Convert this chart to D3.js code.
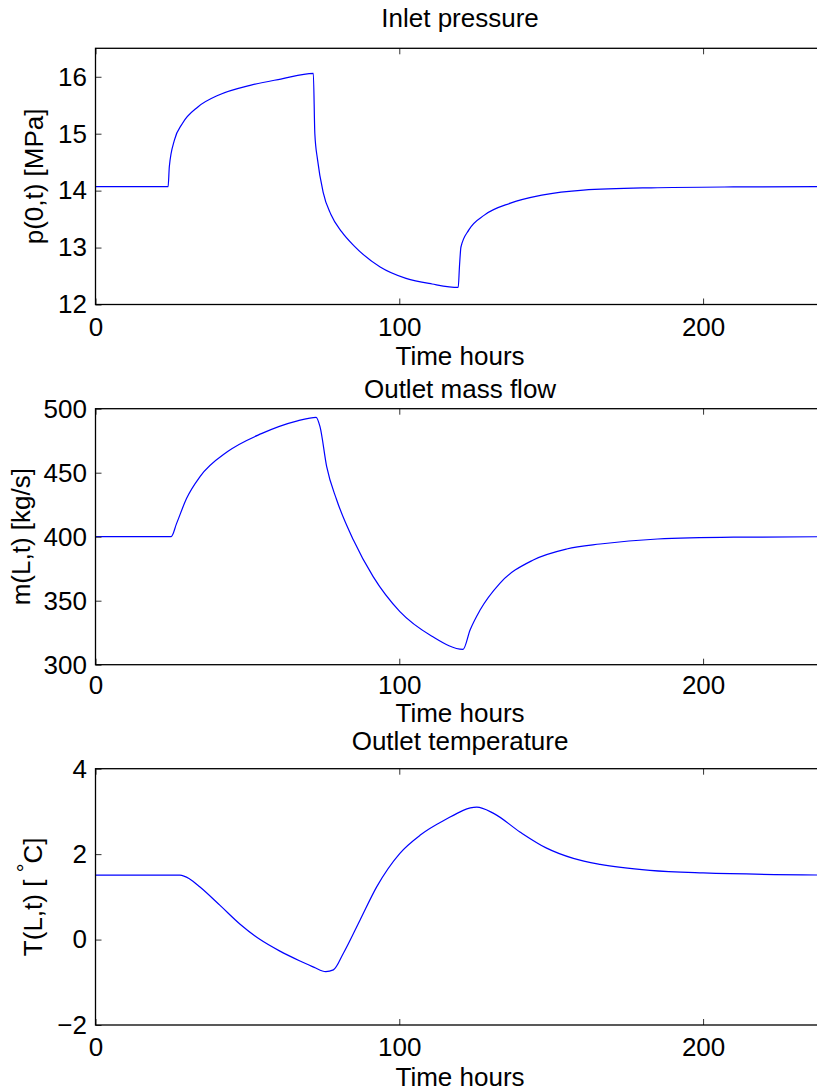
<!DOCTYPE html>
<html>
<head>
<meta charset="utf-8">
<script src="https://cdn.jsdelivr.net/npm/d3@7"></script>
<style>
  html, body { margin: 0; padding: 0; background: #fff; }
  svg { display: block; }
  text { font-family: "Liberation Sans", Arial, Helvetica, sans-serif; fill: #000; }
</style>
</head>
<body>
<svg id="chart"></svg>
<script>
// Time axis (hours) and tick labels
const timeDomain = [0, 240];
const timeTicks = [0, 100, 200];

// Inlet pressure p(0,t) [MPa]
const pressureTime = [0, 23.9, 24.3, 26, 28.6, 33.7, 40.6, 50.9, 61, 71.7, 72.2, 73.1, 74.9, 77.5, 81, 85.1, 93.7, 102.2, 110.8, 119.4, 119.8, 120.3, 122.9, 128, 136.6, 146.9, 160.6, 182.9, 210, 240];
const pressureValues = [14.07, 14.07, 14.42, 14.89, 15.18, 15.47, 15.68, 15.85, 15.96, 16.06, 15.0, 14.54, 13.98, 13.58, 13.28, 13.03, 12.66, 12.46, 12.36, 12.30, 12.66, 13.01, 13.31, 13.57, 13.78, 13.92, 14.01, 14.05, 14.065, 14.07];
const pressureTicks = [12, 13, 14, 15, 16];

// Outlet mass flow m(L,t) [kg/s]
const massTime = [0, 24.9, 26.7, 30, 34.4, 43.5, 54.6, 66.5, 72.6, 73.9, 76.1, 79.4, 84.9, 91.4, 100.2, 110.6, 121, 123.3, 126.6, 133.1, 144.1, 155.1, 166.1, 185, 210, 240];
const massValues = [400, 400, 410.4, 430, 446.9, 466.5, 480.5, 490.5, 493.3, 486, 454.7, 428.7, 397.4, 368.8, 341.5, 322.5, 312, 327.1, 342.7, 363.6, 381.8, 390.4, 394.3, 398.2, 399.6, 400];
const massTicks = [300, 350, 400, 450, 500];

// Outlet temperature T(L,t) [°C]
const tempTime = [0, 27.8, 31, 34.4, 41, 47.6, 54.2, 60.7, 67.3, 72, 75.8, 78.3, 81.6, 87.1, 92.6, 100.2, 106.8, 114.5, 125.5, 130.9, 139.7, 148.5, 157.3, 166.1, 182.5, 200, 240];
const tempValues = [1.51, 1.51, 1.42, 1.23, 0.80, 0.36, 0.0, -0.27, -0.50, -0.65, -0.75, -0.71, -0.32, 0.46, 1.24, 2.02, 2.44, 2.78, 3.10, 2.96, 2.52, 2.14, 1.90, 1.76, 1.62, 1.56, 1.51];
const tempTicks = [-2, 0, 2, 4];

const svgWidth = 817;
const svgHeight = 1092;
const left = 95.5;
const right = 824.6;   // axis box runs past the picture edge, like the original

const svg = d3.select("#chart")
  .attr("width", svgWidth)
  .attr("height", svgHeight);

const xScale = d3.scaleLinear().domain(timeDomain).range([left, right]);

const panels = [
  { title: "Inlet pressure", top: 48.3, bottom: 304.5, yDomain: [12, 16.5], ticks: pressureTicks,
    t: pressureTime, v: pressureValues, titleY: 27, xpad: 13, xlabelY: 365, ylabelX: 43, ylabel: "p(0,t) [MPa]" },
  { title: "Outlet mass flow", top: 408.7, bottom: 664.7, yDomain: [300, 500], ticks: massTicks,
    t: massTime, v: massValues, titleY: 398, xpad: 11, xlabelY: 722, ylabelX: 30, ylabel: "m(L,t) [kg/s]" },
  { title: "Outlet temperature", top: 768.7, bottom: 1025, yDomain: [-2, 4], ticks: tempTicks,
    t: tempTime, v: tempValues, titleY: 750, xpad: 13, xlabelY: 1086, ylabelX: 42, ylabel: null }
];

const fmt = d3.format("d");

panels.forEach(p => {
  const yScale = d3.scaleLinear().domain(p.yDomain).range([p.bottom, p.top]);
  const g = svg.append("g");

  // curve
  const line = d3.line()
    .x((d, i) => xScale(p.t[i]))
    .y(d => yScale(d))
    .curve(d3.curveMonotoneX);

  g.append("path")
    .datum(p.v)
    .attr("d", line)
    .attr("fill", "none")
    .attr("stroke", "#0000ff")
    .attr("stroke-width", 1.2);

  // axes with inward ticks
  g.append("g")
    .attr("transform", `translate(0,${p.bottom})`)
    .call(d3.axisBottom(xScale).tickValues(timeTicks).tickFormat(fmt)
      .tickSizeInner(-6).tickSizeOuter(0).tickPadding(p.xpad));

  g.append("g")
    .attr("transform", `translate(0,${p.top})`)
    .call(d3.axisTop(xScale).tickValues(timeTicks).tickSizeInner(-6).tickSizeOuter(0).tickFormat(""));

  g.append("g")
    .attr("transform", `translate(${left},0)`)
    .call(d3.axisLeft(yScale).tickValues(p.ticks).tickFormat(fmt)
      .tickSizeInner(-6).tickSizeOuter(0).tickPadding(8.5));

  g.selectAll(".domain").remove();
  g.selectAll(".tick line").attr("stroke", "#333").attr("stroke-width", 1);
  g.selectAll(".tick text").style("font-size", "26px").attr("fill", "#000");

  // box
  g.append("rect")
    .attr("x", left)
    .attr("y", p.top)
    .attr("width", right - left)
    .attr("height", p.bottom - p.top)
    .attr("fill", "none")
    .attr("stroke", "#000")
    .attr("stroke-width", 1.3);

  // title and axis labels
  g.append("text")
    .attr("x", (left + right) / 2)
    .attr("y", p.titleY)
    .attr("text-anchor", "middle")
    .style("font-size", "26px")
    .text(p.title);

  g.append("text")
    .attr("x", (left + right) / 2)
    .attr("y", p.xlabelY)
    .attr("text-anchor", "middle")
    .style("font-size", "26px")
    .text("Time hours");

  const yl = g.append("text")
    .attr("transform", `translate(${p.ylabelX},${(p.top + p.bottom) / 2}) rotate(-90)`)
    .attr("text-anchor", "middle")
    .style("font-size", "26px");

  if (p.ylabel) {
    yl.text(p.ylabel);
  } else {
    yl.append("tspan").text("T(L,t) [ ");
    yl.append("tspan").attr("dy", -9).style("font-size", "22px").text("°");
    yl.append("tspan").attr("dy", 9).text("C]");
  }
});
</script>
</body>
</html>
